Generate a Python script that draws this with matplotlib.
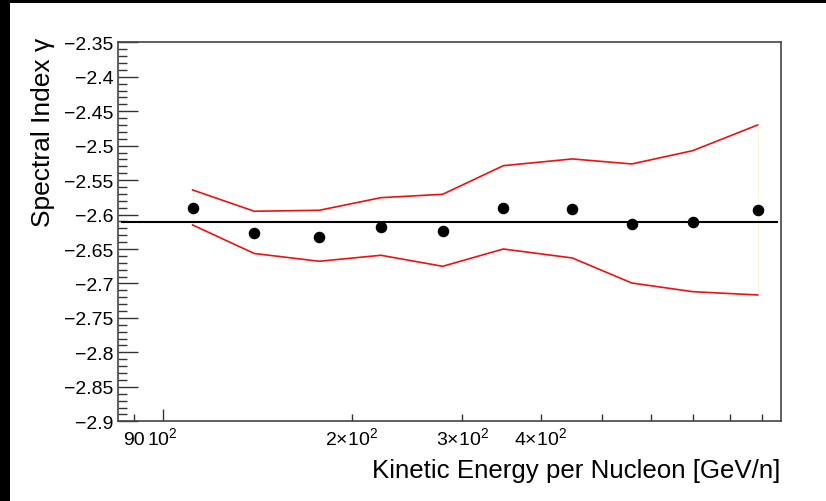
import matplotlib
matplotlib.use("Agg")
import matplotlib.pyplot as plt
from matplotlib.patches import Rectangle
from matplotlib.ticker import FixedLocator, FixedFormatter, FuncFormatter

plt.rcParams['font.family'] = ['Liberation Sans', 'DejaVu Sans']
plt.rcParams['mathtext.fontset'] = 'custom'
plt.rcParams['mathtext.rm'] = 'Liberation Sans'
plt.rcParams['mathtext.it'] = 'Liberation Sans'
plt.rcParams['mathtext.default'] = 'regular'

# energy bins (GeV/n) and fitted spectral index
energy = [111.6, 139.9, 177.6, 222.6, 279.2, 348.7, 449.0, 558.3, 698.3, 886.1]
gamma = [-2.5905, -2.6263, -2.6321, -2.6180, -2.6238,
         -2.5900, -2.5915, -2.6137, -2.6103, -2.5938]
band_hi = [-2.5643, -2.5952, -2.5938, -2.5755, -2.5706,
           -2.5291, -2.5193, -2.5266, -2.5073, -2.4700]
band_lo = [-2.6151, -2.6565, -2.6678, -2.6591, -2.6751,
           -2.6500, -2.6630, -2.6993, -2.7119, -2.7167]
gamma_avg = -2.611
avg_range = [86.0, 950.0]

x_major = [100]
x_minor = [90, 200, 300, 400, 500, 600, 700, 800, 900]
x_minor_labels = ['90', r'$2{\times}10^{2}$', r'$3{\times}10^{2}$', r'$4{\times}10^{2}$',
                  '', '', '', '', '']

fig = plt.figure(figsize=(8.26, 5.02), dpi=100)
fig.patch.set_facecolor('black')
fig.patches.append(Rectangle((10 / 826, 0), 1, 498 / 502, transform=fig.transFigure,
                             facecolor='white', edgecolor='none', zorder=-10))

ax = fig.add_axes([0.1425, 0.1588, 0.8026, 0.7550])
ax.set_zorder(1)
ax.set_facecolor('white')

# faint band edges as drawn by ROOT fill
ax.plot([energy[0], energy[0]], [band_lo[0], band_hi[0]], color='#fcf6d6', lw=0.8, zorder=1)
ax.plot([energy[-1], energy[-1]], [band_lo[-1], band_hi[-1]], color='#fcf6d6', lw=0.8, zorder=1)

ax.plot(energy, band_hi, color='#ee1111', lw=1.2, zorder=2)
ax.plot(energy, band_lo, color='#ee1111', lw=1.2, zorder=2)
ax.plot(avg_range, [gamma_avg, gamma_avg], color='black', lw=1.5, zorder=3)
ax.plot(energy, gamma, 'o', color='black', markersize=7.3, zorder=4)

ax.set_xscale('log')
ax.set_xlim(84.8, 964)
ax.set_ylim(-2.9, -2.35)

ax.xaxis.set_major_locator(FixedLocator(x_major))
ax.xaxis.set_major_formatter(FixedFormatter([r'$10^{2}$']))
ax.xaxis.set_minor_locator(FixedLocator(x_minor))
ax.xaxis.set_minor_formatter(FixedFormatter(x_minor_labels))

yt = [-2.9 + 0.05 * i for i in range(12)]
ax.yaxis.set_major_locator(FixedLocator(yt))
ax.yaxis.set_minor_locator(FixedLocator([-2.9 + 0.01 * i for i in range(56)]))
ax.yaxis.set_major_formatter(FuncFormatter(lambda v, p: ('%g' % round(v, 2)).replace('-', '\u2212')))

ax.tick_params(axis='both', which='both', direction='in', top=False, right=False,
               color='#333333', width=1.0, labelsize=14)
ax.tick_params(axis='y', which='major', length=14.5, pad=3)
ax.tick_params(axis='y', which='minor', length=6.5)
ax.tick_params(axis='x', which='major', length=8.6, pad=16.5)
ax.tick_params(axis='x', which='minor', length=5, pad=16.5)

# put all x labels on a common baseline (mix of plain and superscript text)
for t in ax.xaxis.get_major_ticks() + ax.xaxis.get_minor_ticks():
    t.label1.set_verticalalignment('baseline')

for sp in ax.spines.values():
    sp.set_color('#444444')
    sp.set_linewidth(1.2)

fig.text(780 / 826, 1 - 478 / 502, 'Kinetic Energy per Nucleon [GeV/n]',
         ha='right', va='baseline', fontsize=18.6)
fig.text(43 / 826, 1 - 38 / 502, 'Spectral Index γ', rotation=90,
         ha='center', va='top', fontsize=19)

fig.savefig('out.png', dpi=100, facecolor=fig.get_facecolor())
